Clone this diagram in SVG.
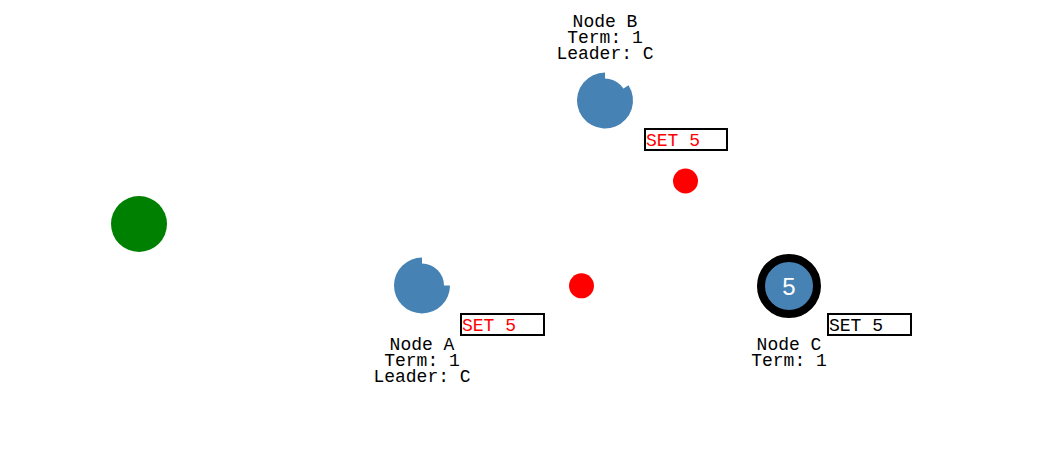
<svg xmlns="http://www.w3.org/2000/svg" width="1058" height="451" viewBox="0 0 1058 451">
<style>
.lbl{font-family:"Liberation Mono","Courier New",monospace;font-size:18px;fill:#000;text-anchor:middle}
.set{font-family:"Liberation Mono","Courier New",monospace;font-size:18px}
.box{fill:#fff;stroke:#000;stroke-width:2}
.srv{fill:#4682b4}
.msg{fill:#ff0000}
</style>
<rect width="1058" height="451" fill="#fff"/>
<g id="connectors"/>
<g id="client"><circle cx="139" cy="224" r="28" fill="#008000"/></g>
<g id="nodeB">
<circle class="srv" cx="605" cy="100.5" r="22"/>
<path class="srv" d="M605,100.5 L628.48,85.25 A28,28 0 1 1 605,72.5 Z"/>
<text class="lbl" x="605" y="27">Node B</text>
<text class="lbl" x="605" y="43">Term: 1</text>
<text class="lbl" x="605" y="59">Leader: C</text>
<rect class="box" x="645" y="129" width="82" height="21"/>
<text class="set" x="646" y="146" fill="#ff0000">SET 5</text>
</g>
<g id="nodeA">
<circle class="srv" cx="422" cy="285.5" r="22"/>
<path class="srv" d="M422,285.5 L450,285.5 A28,28 0 1 1 422,257.5 Z"/>
<text class="lbl" x="422" y="350">Node A</text>
<text class="lbl" x="422" y="366">Term: 1</text>
<text class="lbl" x="422" y="382">Leader: C</text>
<rect class="box" x="461" y="314" width="83" height="21"/>
<text class="set" x="462" y="331" fill="#ff0000">SET 5</text>
</g>
<g id="nodeC">
<circle cx="789" cy="286" r="28" fill="#4682b4" stroke="#000" stroke-width="8"/>
<text x="789" y="295" text-anchor="middle" font-family="Liberation Sans, Arial, sans-serif" font-size="24" fill="#fff">5</text>
<text class="lbl" x="789" y="350">Node C</text>
<text class="lbl" x="789" y="366">Term: 1</text>
<rect class="box" x="828" y="314" width="83" height="21"/>
<text class="set" x="829" y="331" fill="#000">SET 5</text>
</g>
<g id="messages">
<circle class="msg" cx="685.5" cy="181" r="12.5"/>
<circle class="msg" cx="581.5" cy="285.8" r="12.5"/>
</g>
</svg>
